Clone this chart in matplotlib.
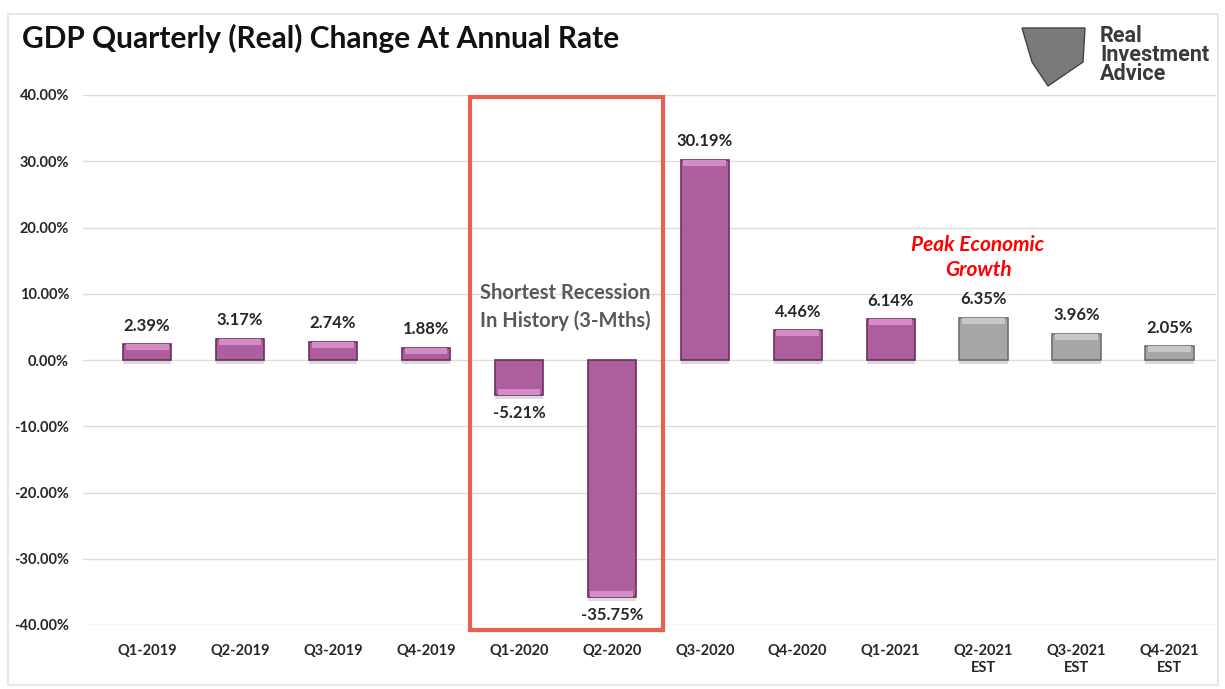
import numpy as np
import matplotlib
matplotlib.use("Agg")
import matplotlib.pyplot as plt
from matplotlib.patches import Rectangle, Polygon
import matplotlib.patheffects as pe

quarters = ["Q1-2019", "Q2-2019", "Q3-2019", "Q4-2019", "Q1-2020", "Q2-2020",
            "Q3-2020", "Q4-2020", "Q1-2021", "Q2-2021\nEST", "Q3-2021\nEST", "Q4-2021\nEST"]
gdp = [2.39, 3.17, 2.74, 1.88, -5.21, -35.75, 30.19, 4.46, 6.14, 6.35, 3.96, 2.05]
is_estimate = [False] * 9 + [True] * 3

plt.rcParams['font.family'] = ['Lato', 'DejaVu Sans']

fig = plt.figure(figsize=(12.25, 6.89), dpi=100)
ax = fig.add_axes([83 / 1225, 64 / 689, (1216 - 83) / 1225, 530 / 689])

x = np.arange(len(quarters))
face = ['#A6A6A6' if e else '#AC5E9D' for e in is_estimate]
edge = ['#6F6F6F' if e else '#6E2E62' for e in is_estimate]
bars = ax.bar(x, gdp, width=0.52, color=face, edgecolor=edge, linewidth=1.2, zorder=3)
for b in bars:
    b.set_path_effects([pe.SimplePatchShadow(offset=(0, -3), shadow_rgbFace='#999999', alpha=0.35),
                        pe.Normal()])

# lighter bevel on top of each bar
hi = ['#C8C8C8' if e else '#D48CC6' for e in is_estimate]
ax.bar(x, [np.sign(v) * min(abs(v), 0.9) for v in gdp],
       bottom=[v - np.sign(v) * min(abs(v), 0.9) for v in gdp],
       width=0.46, color=hi, linewidth=0, zorder=4)

# value labels
for xi, v in zip(x, gdp):
    if v >= 0:
        ax.text(xi, v + 1.6, f"{v:.2f}%", ha='center', va='bottom', fontsize=12, fontweight='bold', color='#262626')
    else:
        ax.text(xi, v - 1.6, f"{v:.2f}%", ha='center', va='top', fontsize=12, fontweight='bold', color='#262626')

ax.set_xlim(-0.69, 11.5)
ax.set_ylim(-40, 40)
ax.set_yticks(np.arange(-40, 41, 10))
ax.set_yticklabels([f"{t:.2f}%" for t in np.arange(-40, 41, 10)])
ax.set_xticks(x)
ax.set_xticklabels(quarters)
ax.tick_params(axis='both', length=0, labelsize=10.5, colors='#262626')
ax.tick_params(axis='y', pad=10)
ax.tick_params(axis='x', pad=14)
for lbl in ax.get_xticklabels() + ax.get_yticklabels():
    lbl.set_fontweight('bold')
ax.grid(axis='y', color='#DDDDDD', linewidth=1, zorder=0)
for s in ax.spines.values():
    s.set_visible(False)

# recession box
ax.add_patch(Rectangle((3.47, -40.75), 2.08, 80.45, fill=False, edgecolor='#E8604F',
                       linewidth=3, clip_on=False, zorder=5))
ax.text(4.5, 8.0, "Shortest Recession\nIn History (3-Mths)", ha='center', va='center',
        fontsize=14.5, fontweight='bold', color='#595959', linespacing=1.4, zorder=6)

ax.text(8.94, 15.5, "Peak Economic\nGrowth", ha='center', va='center', fontsize=15,
        fontweight='bold', fontstyle='italic', color='#FF0000', linespacing=1.35)

# title
fig.text(22 / 1225, 1 - 38 / 689, "GDP Quarterly (Real) Change At Annual Rate",
         ha='left', va='center', fontsize=21.5, fontweight='bold', color='#111111')

# logo
fig.text(1100 / 1225, 1 - 55 / 689, "Real\nInvestment\nAdvice", ha='left', va='center',
         fontsize=15.5, fontweight='bold', color='#3A3A3A', linespacing=0.85,
         family=['Roboto', 'DejaVu Sans'])
shield = Polygon([(1022 / 1225, 1 - 28 / 689), (1085 / 1225, 1 - 28 / 689),
                  (1083 / 1225, 1 - 62 / 689), (1048 / 1225, 1 - 86 / 689),
                  (1032 / 1225, 1 - 62 / 689)], closed=True, transform=fig.transFigure,
                 facecolor='#7A7A7A', edgecolor='#444444', linewidth=1)
fig.patches.append(shield)

# outer frame
fig.patches.append(Rectangle((8 / 1225, 4 / 689), 1210 / 1225, 671 / 689, transform=fig.transFigure,
                             fill=False, edgecolor='#E3E3E3', linewidth=1.2))

fig.savefig("out.png", dpi=100)
